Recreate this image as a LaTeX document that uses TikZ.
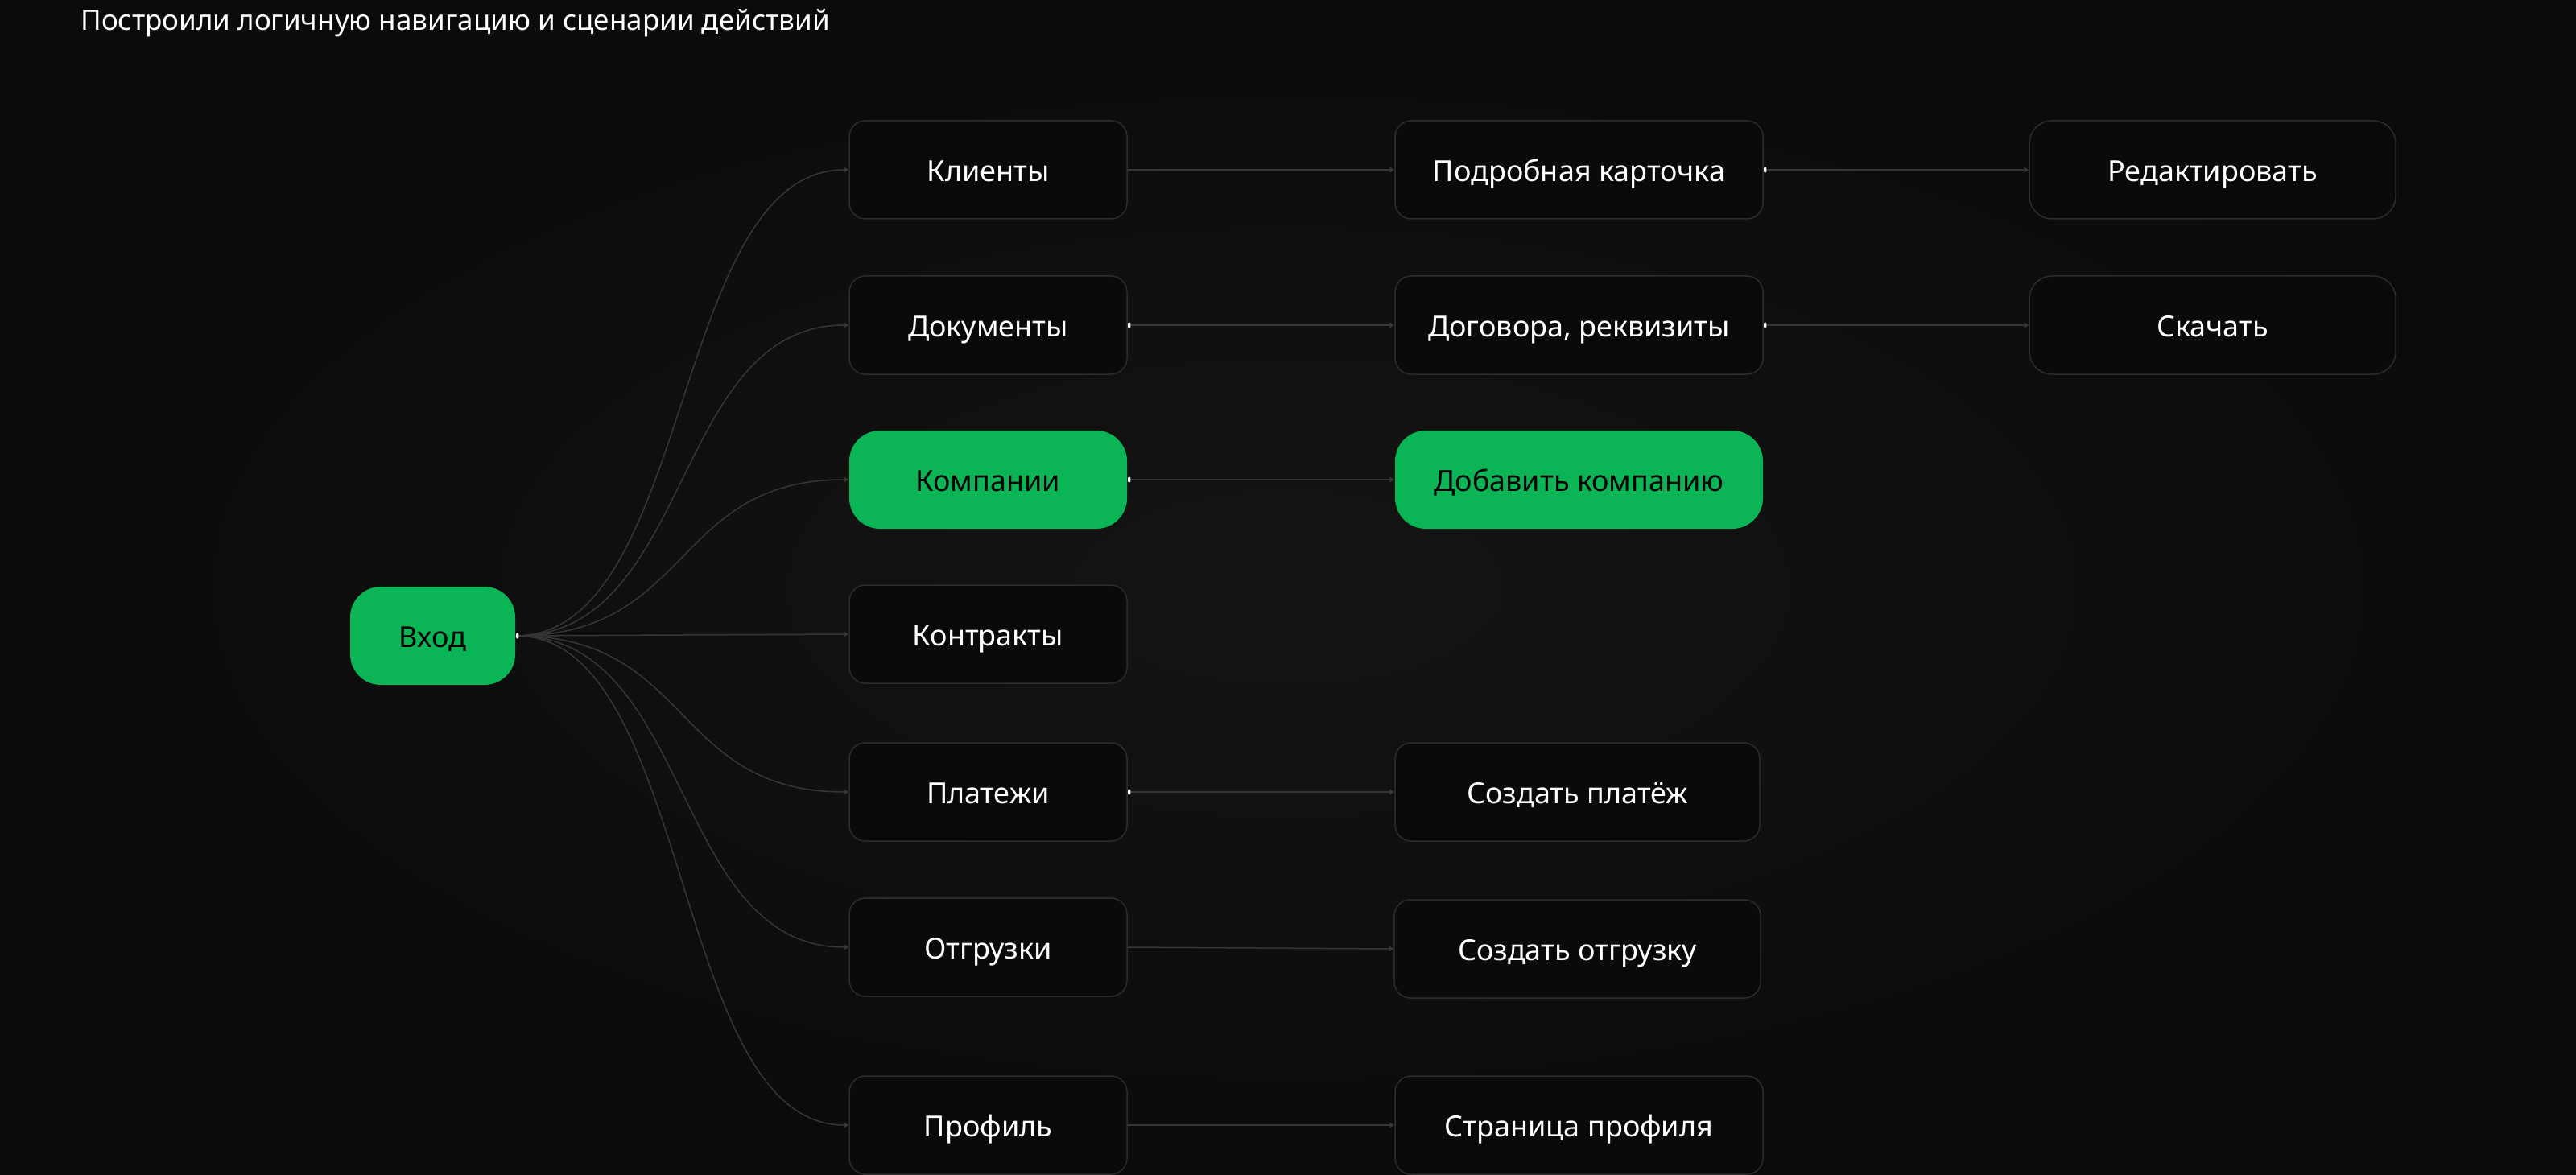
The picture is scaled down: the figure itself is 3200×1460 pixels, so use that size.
\documentclass[tikz,border=0pt]{standalone}
\usepackage{fontspec}
\setmainfont{Noto Sans}
\usetikzlibrary{arrows.meta}
\definecolor{bgin}{HTML}{141414}
\definecolor{bgout}{HTML}{0B0B0B}
\definecolor{boxfill}{HTML}{0A0A0A}
\definecolor{edge}{HTML}{2C2C2C}
\definecolor{wire}{HTML}{363636}
\definecolor{accent}{HTML}{0BB454}
\tikzset{
  box/.style={draw=edge,line width=0.75pt,fill=boxfill,text=white,rounded corners=10pt,
    minimum height=61pt,inner sep=0pt,text height=14.9pt,text depth=0pt,font=\fontsize{18}{20}\selectfont},
  mid/.style={box,minimum width=172.5pt},
  wide/.style={box,minimum width=228.5pt},
  far/.style={box,minimum width=227.5pt,rounded corners=14pt},
  hot/.style={box,draw=none,fill=accent,text=black,rounded corners=19pt},
  link/.style={draw=wire,line width=0.75pt,-{Triangle[length=3pt,width=3.4pt]}},
  grip/.style={fill=white,draw=none,inner sep=0pt,minimum width=1.6pt,minimum height=3.6pt,rounded corners=0.7pt,anchor=west}
}
\begin{document}
\begin{tikzpicture}[x=0.5pt,y=-0.5pt]
\useasboundingbox (0,0) rectangle (3200,1460);
\shade[inner color=bgin,outer color=bgout] (0,0) rectangle (3200,1460);
\node[anchor=west,inner sep=0pt,text=white,font=\fontsize{17.5}{20}\selectfont] (title) at (100,29) {Построили логичную навигацию и сценарии действий};

\node[hot,minimum width=102.5pt] (entry) at (537.5,790) {Вход};

\node[mid] (clients) at (1227.5,211) {Клиенты};
\node[mid] (docs) at (1227.5,404) {Документы};
\node[mid,hot] (companies) at (1227.5,596) {Компании};
\node[mid] (contracts) at (1227.5,788) {Контракты};
\node[mid] (payments) at (1227.5,984) {Платежи};
\node[mid] (shipments) at (1227.5,1177) {Отгрузки};
\node[mid] (profile) at (1227.5,1398) {Профиль};

\node[wide] (card) at (1961.5,211) {Подробная карточка};
\node[wide] (requisites) at (1961.5,404) {Договора, реквизиты};
\node[wide,hot] (addco) at (1961.5,596) {Добавить компанию};
\node[wide,minimum width=226.5pt] (newpay) at (1959.5,984) {Создать платёж};
\node[wide,minimum width=227.5pt] (newship) at (1959.5,1179) {Создать отгрузку};
\node[wide] (profpage) at (1961.5,1398) {Страница профиля};

\node[far] (edit) at (2748.5,211) {Редактировать};
\node[far] (download) at (2748.5,404) {Скачать};

\draw[link] (entry.east) to[out=0,in=180,distance=110pt] (clients.west);
\draw[link] (entry.east) to[out=0,in=180,distance=110pt] (docs.west);
\draw[link] (entry.east) to[out=0,in=180,distance=110pt] (companies.west);
\draw[link] (entry.east) -- (contracts.west);
\draw[link] (entry.east) to[out=0,in=180,distance=110pt] (payments.west);
\draw[link] (entry.east) to[out=0,in=180,distance=110pt] (shipments.west);
\draw[link] (entry.east) to[out=0,in=180,distance=110pt] (profile.west);

\draw[link] (clients.east) -- (card.west);
\draw[link] (docs.east) -- (requisites.west);
\draw[link] (companies.east) -- (addco.west);
\draw[link] (payments.east) -- (newpay.west);
\draw[link] (shipments.east) -- (newship.west);
\draw[link] (profile.east) -- (profpage.west);
\draw[link] (card.east) -- (edit.west);
\draw[link] (requisites.east) -- (download.west);

\node[grip] (g1) at (entry.east) {};
\node[grip] (g2) at (docs.east) {};
\node[grip] (g3) at (companies.east) {};
\node[grip] (g4) at (payments.east) {};
\node[grip] (g5) at (card.east) {};
\node[grip] (g6) at (requisites.east) {};
\end{tikzpicture}
\end{document}
